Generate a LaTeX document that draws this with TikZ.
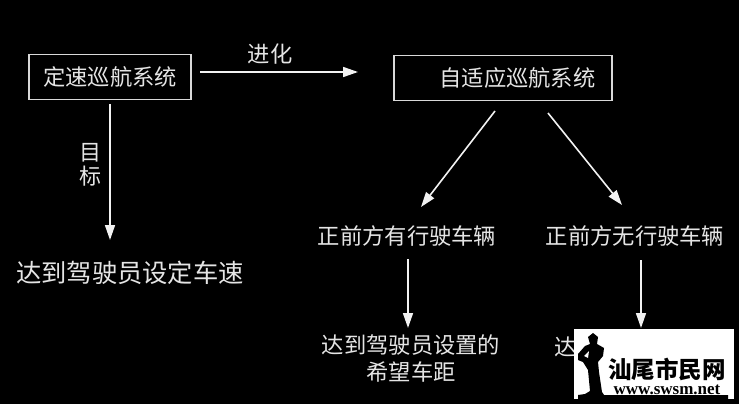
\documentclass[tikz,border=0pt]{standalone}
\usepackage{fontspec}
\usepackage{tikz}
\usetikzlibrary{arrows.meta}
\setmainfont{Noto Sans CJK SC}
\newfontfamily\wwwfont{Liberation Serif}
\tikzset{
  label/.style={text=white!90!black,inner sep=0pt,font=\fontsize{22.3}{27}\selectfont},
  bigger/.style={label,font=\fontsize{25.3}{30}\selectfont},
  box/.style={draw=white!85!black,line width=1.2pt,minimum height=45pt,inner sep=0pt},
  link/.style={draw=white!95!black,line width=1.6pt,-{Triangle[length=15pt,width=10pt]}},
}
\begin{document}
\begin{tikzpicture}[x=1pt,y=1pt]
\useasboundingbox (0,0) rectangle (739,-404);
\fill [black] (0,0) rectangle (739,-404);
\node [box,label,minimum width=162pt] (cruise) at (110,-77) {定速巡航系统};
\node [box,label,minimum width=218pt] (adaptive) at (503,-78) {\hspace{29pt}自适应巡航系统};
\node [label] (evolve) at (270,-54) {进化};
\node [label,font=\fontsize{22}{24}\selectfont,align=center] (goal) at (90,-165) {目\\标};
\node [bigger] (fixed) at (130,-273) {达到驾驶员设定车速};
\node [label] (ahead) at (407,-236) {正前方有行驶车辆};
\node [label] (clear) at (635,-236) {正前方无行驶车辆};
\node [label,align=center,font=\fontsize{22.3}{27}\selectfont] (gap) at (411,-358) {达到驾驶员设置的\\希望车距};
\node [label] (hidden) at (566,-347) {达};
\coordinate (cruiseout) at (200,-72);
\coordinate (adaptivein) at (358,-72);
\coordinate (cruisedown) at (110,-104);
\coordinate (fixedin) at (110,-240);
\coordinate (adaptiveleft) at (495,-111);
\coordinate (aheadin) at (421,-207);
\coordinate (adaptiveright) at (548,-113);
\coordinate (clearin) at (622,-205);
\coordinate (aheadout) at (408,-259);
\coordinate (gapin) at (408,-328);
\coordinate (clearout) at (641,-260);
\coordinate (hiddenin) at (641,-328);
\draw [link] (cruiseout) -- (adaptivein);
\draw [link] (cruisedown) -- (fixedin);
\draw [link] (adaptiveleft) -- (aheadin);
\draw [link] (adaptiveright) -- (clearin);
\draw [link] (aheadout) -- (gapin);
\draw [link] (clearout) -- (hiddenin);
% watermark
\fill [white] (574,-329) rectangle (734,-399);
\fill [black] (578,-399) -- (578,-395) -- (585,-394) -- (590,-391) -- (588,-370) -- (583,-362) -- (578,-360) -- (578,-354) -- (585,-346) -- (590,-344) -- (588,-337) -- (593,-333) -- (598,-337) -- (597,-344) -- (604,-348) -- (603,-356) -- (598,-362) -- (599,-372) -- (602,-392) -- (604,-395) -- (728,-395) -- (728,-399) -- cycle;
\fill [white] (584,-356) -- (589,-351) -- (588,-358) -- cycle;
\node [inner sep=0pt,text=black,font=\fontsize{23.5}{25}\bfseries\selectfont] (mark) at (667,-369) {汕尾市民网};
\node [inner sep=0pt,text=black,font=\wwwfont\fontsize{17}{19}\bfseries\selectfont] (site) at (667,-390) {www.swsm.net};
\end{tikzpicture}
\end{document}
